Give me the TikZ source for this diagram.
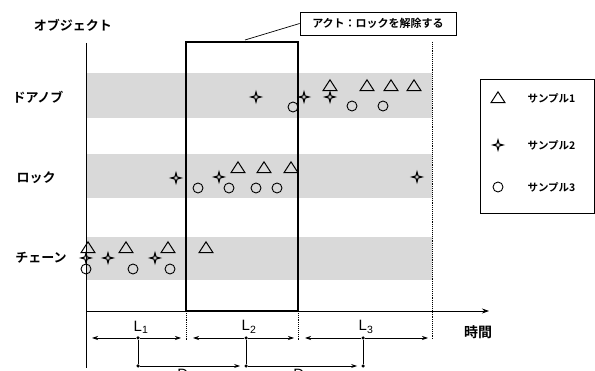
\documentclass[tikz,border=0pt]{standalone}
\usepackage{fontspec}
\setmainfont{Liberation Sans}
\newfontfamily\jp{Noto Sans CJK JP}[BoldFont={Noto Sans CJK JP Bold}]
\usetikzlibrary{shapes.geometric,arrows.meta}
\begin{document}
\begin{tikzpicture}[x=1pt,y=-1pt,
  band/.style={fill=black!15,draw=none},
  tri/.style={regular polygon,regular polygon sides=3,draw,line width=1pt,minimum size=16pt,inner sep=0pt,yscale=0.9},
  circ/.style={circle,draw,line width=0.9pt,minimum size=10pt,inner sep=0pt},
  sstar/.style={star,star points=4,star point ratio=3.2,draw,line width=1.1pt,minimum size=10pt,inner sep=0pt},
  objlabel/.style={font=\jp\bfseries\fontsize{13}{13}\selectfont},
  dotline/.style={densely dotted,line width=0.9pt},
  dimarrow/.style={-{Stealth[length=6pt,width=4pt]},line width=0.7pt},
  pt/.style={circle,fill,inner sep=0pt,minimum size=3.5pt}]
\useasboundingbox (0,0) rectangle (595,371);
% bands
\fill[band] (86,73) rectangle (432,118);
\fill[band] (86,154) rectangle (432,198);
\fill[band] (86,237) rectangle (432,280);
% axes
\coordinate (ytop) at (86,43);
\coordinate (ybot) at (86,368);
\coordinate (xend) at (489,311);
\coordinate (orig) at (86,311);
\draw[line width=0.9pt] (ytop) -- (ybot);
\draw[line width=0.8pt,-{Stealth[length=7pt,width=5pt]}] (orig) -- (xend);
% act box
\node[draw,line width=1.6pt,minimum width=112pt,minimum height=269pt,inner sep=0pt] (act) at (242,176.5) {};
% dotted lines
\coordinate (d1a) at (186,311); \coordinate (d1b) at (186,340);
\coordinate (d2a) at (298,311); \coordinate (d2b) at (298,340);
\coordinate (d3a) at (432,42); \coordinate (d3b) at (432,340);
\draw[dotline] (d1a) -- (d1b);
\draw[dotline] (d2a) -- (d2b);
\draw[dotline] (d3a) -- (d3b);
% callout
\node[draw,line width=0.7pt,minimum width=156pt,minimum height=23pt,inner sep=0pt,font=\jp\bfseries\fontsize{11}{11}\selectfont] (call) at (378,23.5) {アクト：ロックを解除する};
\coordinate (callpt) at (245,40);
\draw[line width=0.7pt] (callpt) -- (call.west);
% labels
\node[objlabel] (obj) at (73,25) {オブジェクト};
\node[objlabel] (door) at (38,97) {ドアノブ};
\node[objlabel] (lock) at (36,178) {ロック};
\node[objlabel] (chain) at (41,258) {チェーン};
\node[font=\jp\bfseries\fontsize{14}{14}\selectfont] (time) at (478,332) {時間};
% door knob markers
\node[tri] (dt1) at (330,87) {};
\node[tri] (dt2) at (367,87) {};
\node[tri] (dt3) at (391,87) {};
\node[tri] (dt4) at (414,87) {};
\node[sstar] (ds1) at (256,97) {};
\node[sstar] (ds2) at (304,97) {};
\node[sstar] (ds3) at (330,97) {};
\node[circ] (dc1) at (293,107) {};
\node[circ] (dc2) at (352,106) {};
\node[circ] (dc3) at (383,106) {};
% lock markers
\node[tri] (lt1) at (238,169) {};
\node[tri] (lt2) at (264,169) {};
\node[tri] (lt3) at (291,169) {};
\node[sstar] (ls1) at (176,178) {};
\node[sstar] (ls2) at (219,177) {};
\node[sstar] (ls3) at (417,177) {};
\node[circ] (lc1) at (198,188) {};
\node[circ] (lc2) at (229,188) {};
\node[circ] (lc3) at (256,188) {};
\node[circ] (lc4) at (277,188) {};
% chain markers
\node[tri] (ct1) at (88,249) {};
\node[tri] (ct2) at (126,249) {};
\node[tri] (ct3) at (168,249) {};
\node[tri] (ct4) at (206,249) {};
\node[sstar] (cs1) at (86,258) {};
\node[sstar] (cs2) at (108,258) {};
\node[sstar] (cs3) at (155,258) {};
\node[circ] (cc1) at (86,269) {};
\node[circ] (cc2) at (133,269) {};
\node[circ] (cc3) at (170,269) {};
% legend
\node[draw,line width=0.7pt,minimum width=114pt,minimum height=134pt,inner sep=0pt] (leg) at (537,146) {};
\node[tri] (lg1) at (498,99) {};
\node[sstar] (lg2) at (498,145) {};
\node[circ] (lg3) at (498,187) {};
\node[font=\jp\bfseries\fontsize{10.5}{10.5}\selectfont,anchor=west] (lt1txt) at (524,98) {サンプル1};
\node[font=\jp\bfseries\fontsize{10.5}{10.5}\selectfont,anchor=west] (lt2txt) at (524,145) {サンプル2};
\node[font=\jp\bfseries\fontsize{10.5}{10.5}\selectfont,anchor=west] (lt3txt) at (524,187) {サンプル3};
% dimension lines
\node[pt] (p1) at (138,338) {};
\node[pt] (p2) at (246,338) {};
\node[pt] (p3) at (363,338) {};
\coordinate (l1a) at (92,338); \coordinate (l1b) at (181,338);
\coordinate (l2a) at (193,338); \coordinate (l2b) at (294,338);
\coordinate (l3a) at (305,338); \coordinate (l3b) at (428,338);
\draw[dimarrow] (p1) -- (l1a); \draw[dimarrow] (p1) -- (l1b);
\draw[dimarrow] (p2) -- (l2a); \draw[dimarrow] (p2) -- (l2b);
\draw[dimarrow] (p3) -- (l3a); \draw[dimarrow] (p3) -- (l3b);
\node[font=\fontsize{15}{15}\selectfont] (L1) at (141,327) {L\textsubscript{1}};
\node[font=\fontsize{15}{15}\selectfont] (L2) at (249,327) {L\textsubscript{2}};
\node[font=\fontsize{15}{15}\selectfont] (L3) at (366,327) {L\textsubscript{3}};
\node[pt] (q1) at (138,366) {};
\node[pt] (q2) at (246,366) {};
\node[pt] (q3) at (363,366) {};
\draw[line width=0.7pt] (p1) -- (q1);
\draw[line width=0.7pt] (p2) -- (q2);
\draw[line width=0.7pt] (p3) -- (q3);
\draw[dimarrow] (q1) -- ([xshift=-4pt]q2.west);
\draw[dimarrow] (q2) -- ([xshift=-4pt]q3.west);
\node[font=\fontsize{15}{15}\selectfont,anchor=north] (D1) at (186,366) {D\textsubscript{1}};
\node[font=\fontsize{15}{15}\selectfont,anchor=north] (D2) at (302,366) {D\textsubscript{2}};
\end{tikzpicture}
\end{document}
